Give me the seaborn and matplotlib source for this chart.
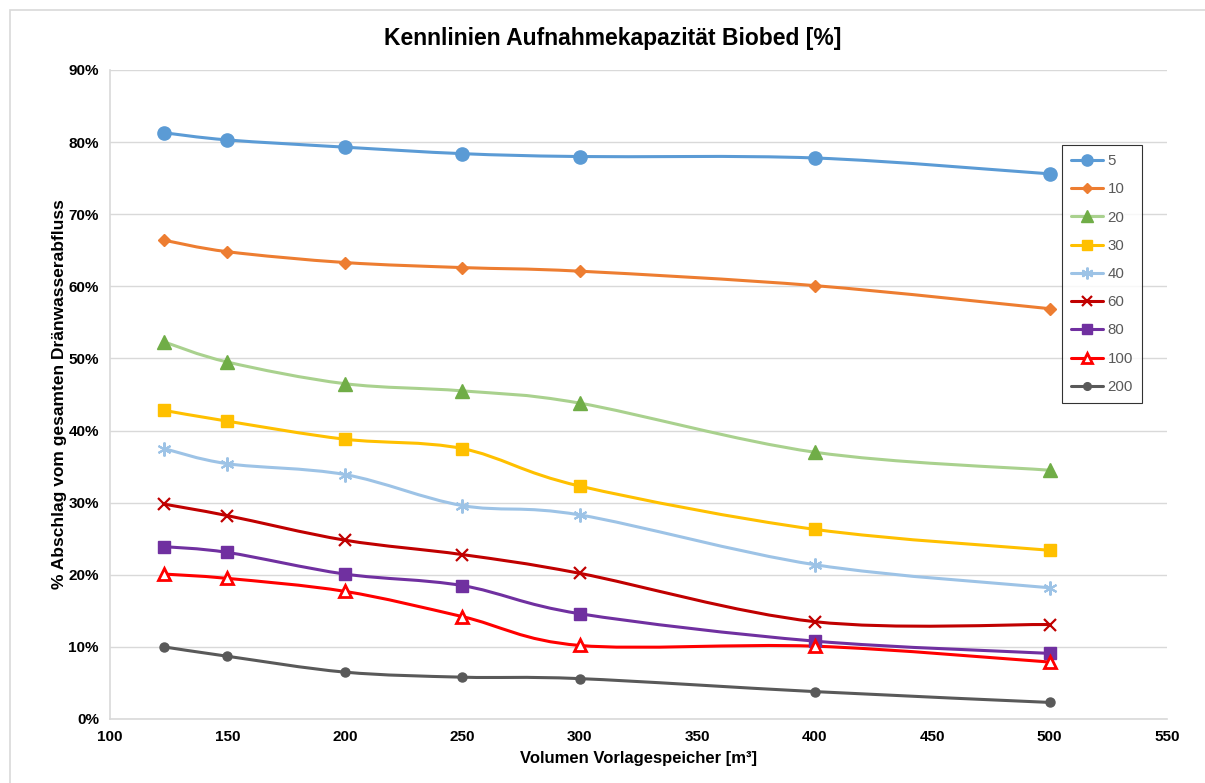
import numpy as np
import pandas as pd
import matplotlib
matplotlib.use("Agg")
import matplotlib.pyplot as plt
from matplotlib.path import Path
from matplotlib.patches import PathPatch, Rectangle
from matplotlib.lines import Line2D
from matplotlib.ticker import FuncFormatter
import seaborn as sns

# ---------------- data ----------------
volumes = [123, 150, 200, 250, 300, 400, 500]
series_names = ["5", "10", "20", "30", "40", "60", "80", "100", "200"]
s5 = [81.3, 80.3, 79.3, 78.4, 78.0, 77.8, 75.6]
s10 = [66.4, 64.8, 63.3, 62.6, 62.1, 60.1, 56.9]
s20 = [52.3, 49.5, 46.5, 45.5, 43.8, 37.0, 34.5]
s30 = [42.8, 41.3, 38.8, 37.5, 32.3, 26.3, 23.4]
s40 = [37.5, 35.4, 33.9, 29.6, 28.3, 21.4, 18.2]
s60 = [29.8, 28.2, 24.8, 22.8, 20.2, 13.5, 13.1]
s80 = [23.9, 23.1, 20.1, 18.5, 14.6, 10.8, 9.1]
s100 = [20.1, 19.5, 17.7, 14.2, 10.2, 10.1, 7.9]
s200 = [10.0, 8.7, 6.5, 5.8, 5.6, 3.8, 2.3]
all_series = [s5, s10, s20, s30, s40, s60, s80, s100, s200]

title = "Kennlinien Aufnahmekapazität Biobed [%]"
xlabel = "Volumen Vorlagespeicher [m³]"
ylabel = "% Abschlag vom gesamten Dränwasserabfluss"

# ---------------- styles ----------------
line_colors = ["#5b9bd5", "#ed7d31", "#a9d18e", "#ffc000", "#9dc3e6",
               "#c00000", "#7030a0", "#ff0000", "#595959"]
marker_face = ["#5b9bd5", "#ed7d31", "#70ad47", "#ffc000", "#9dc3e6",
               "#c00000", "#7030a0", "white", "#595959"]
marker_edge = ["#5b9bd5", "#ed7d31", "#70ad47", "#ffc000", "#9dc3e6",
               "#c00000", "#7030a0", "#ff0000", "#595959"]
markers = ["o", "D", "^", "s", (6, 2, 0), "x", "s", "^", "o"]
msizes = [9.5, 6.0, 9.5, 8.0, 10.0, 8.5, 8.0, 8.5, 6.5]
medgew = [1, 1, 1, 1, 1.5, 1.6, 1, 2.0, 1]

sns.set_theme(style="white")
plt.rcParams["font.family"] = ["Liberation Sans", "DejaVu Sans"]
plt.rcParams["text.color"] = "black"

fig = plt.figure(figsize=(12.05, 7.83), dpi=100)
ax = fig.add_axes([110 / 1205, 1 - 719 / 783, (1167 - 110) / 1205, (719 - 70) / 783])

# chart frame
fig.patches.append(Rectangle((10 / 1205, -0.05), 1.1, 1 - 10 / 783 + 0.05,
                             transform=fig.transFigure, fill=False,
                             edgecolor="#d9d9d9", lw=1.2, zorder=0))


def smooth_path(xs, ys):
    pts = np.column_stack([xs, ys]).astype(float)
    n = len(pts)
    verts = [pts[0]]
    codes = [Path.MOVETO]
    for i in range(n - 1):
        p0 = pts[i - 1] if i > 0 else pts[i]
        p1 = pts[i]
        p2 = pts[i + 1]
        p3 = pts[i + 2] if i + 2 < n else pts[i + 1]
        c1 = p1 + (p2 - p0) / 6.0
        c2 = p2 - (p3 - p1) / 6.0
        verts += [c1, c2, p2]
        codes += [Path.CURVE4] * 3
    return Path(verts, codes)


handles = []
for i, (name, vals) in enumerate(zip(series_names, all_series)):
    yv = np.array(vals) / 100.0
    ax.add_patch(PathPatch(smooth_path(volumes, yv), facecolor="none",
                           edgecolor=line_colors[i], lw=2.2, zorder=3,
                           capstyle="round", joinstyle="round"))
    df = pd.DataFrame({"x": volumes, "y": yv})
    sns.lineplot(data=df, x="x", y="y", ax=ax, marker=markers[i],
                 markersize=msizes[i], markerfacecolor=marker_face[i],
                 markeredgecolor=marker_edge[i], markeredgewidth=medgew[i],
                 linestyle="none", color=line_colors[i], legend=False,
                 zorder=4)
    handles.append(Line2D([], [], color=line_colors[i], lw=2.2,
                          marker=markers[i], markersize=msizes[i] * 0.85,
                          markerfacecolor=marker_face[i],
                          markeredgecolor=marker_edge[i],
                          markeredgewidth=medgew[i], label=name))

ax.set_xlim(100, 550)
ax.set_ylim(0, 0.9)
ax.set_xticks(np.arange(100, 551, 50))
ax.set_yticks(np.arange(0, 0.91, 0.1))
ax.yaxis.set_major_formatter(FuncFormatter(lambda v, p: f"{v * 100:.0f}%"))
ax.grid(axis="y", color="#d9d9d9", lw=1)
ax.grid(axis="x", visible=False)
for s in ["top", "right"]:
    ax.spines[s].set_visible(False)
for s in ["left", "bottom"]:
    ax.spines[s].set_color("#d9d9d9")
    ax.spines[s].set_linewidth(1.2)
ax.tick_params(axis="both", length=0, labelsize=11, pad=8, colors="black")
for lab in ax.get_xticklabels() + ax.get_yticklabels():
    lab.set_fontweight("bold")

ax.set_xlabel(xlabel, fontsize=12, fontweight="bold", labelpad=5, color="black")
ax.set_ylabel(ylabel, fontsize=12.5, fontweight="bold", labelpad=1, color="black")
fig.text(613 / 1205, 1 - 38 / 783, title, ha="center",
         va="center", fontsize=16.5, fontweight="bold", color="black")

leg = ax.legend(handles=handles, loc="upper left",
                bbox_to_anchor=(1062 / 1205, 1 - 145 / 783),
                bbox_transform=fig.transFigure, frameon=True, fancybox=False,
                borderaxespad=0, handlelength=2.1, labelspacing=0.95,
                borderpad=0.6, fontsize=10.8, labelcolor="#595959",
                handletextpad=0.35)
leg.get_frame().set_edgecolor("black")
leg.get_frame().set_linewidth(0.8)

fig.savefig("out.png", dpi=100, facecolor="white")
